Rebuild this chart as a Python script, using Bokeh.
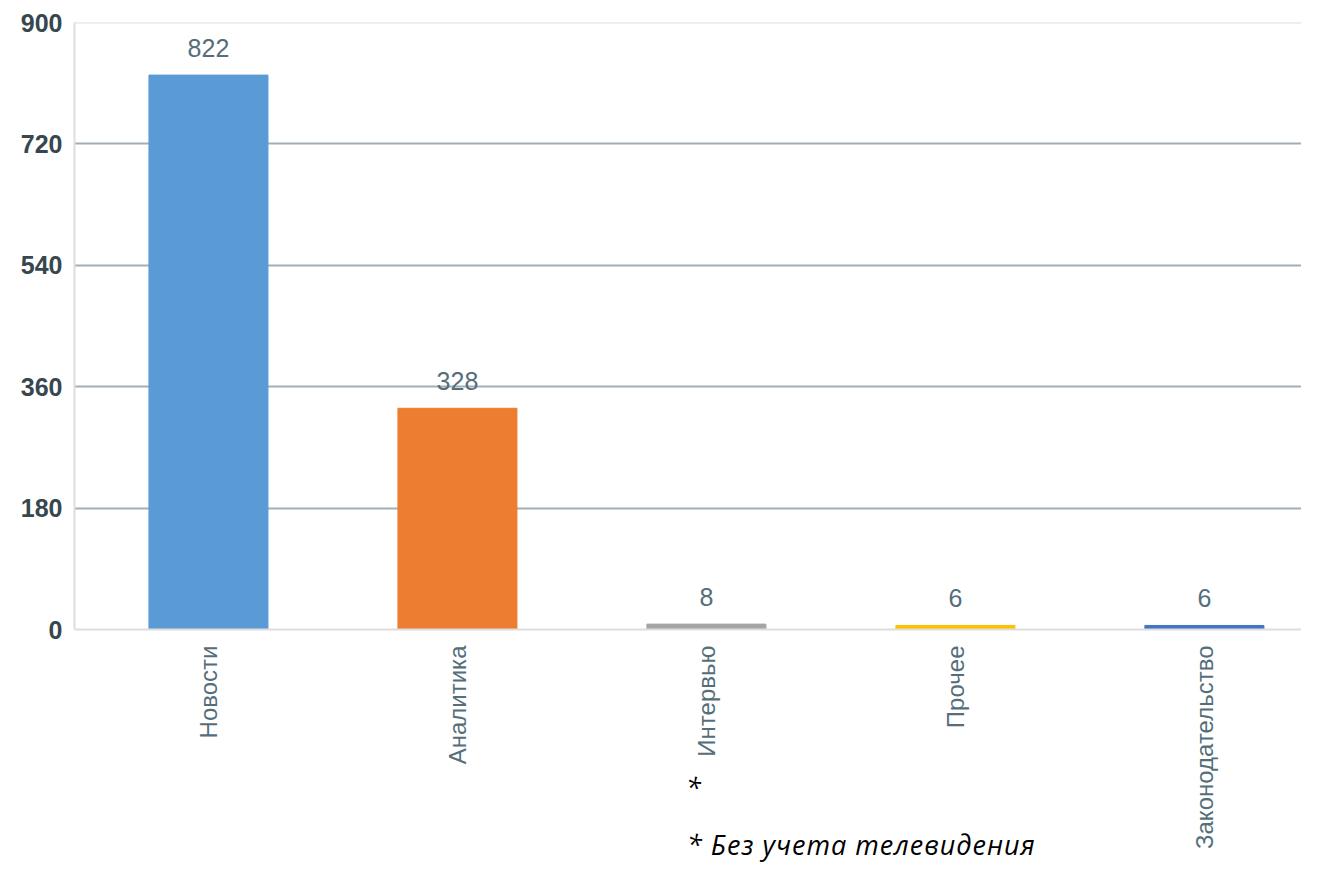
import math
from bokeh.plotting import figure
from bokeh.layouts import column
from bokeh.models import (ColumnDataSource, Range1d, FixedTicker, LabelSet,
                          Span, Div)
from bokeh.core.properties import value
from bokeh.embed import file_html
from bokeh.resources import INLINE

categories = ["Новости", "Аналитика", "Интервью", "Прочее", "Законодательство"]
values = [822, 328, 8, 6, 6]
colors = ["#5B9BD5", "#ED7D31", "#A5A5A5", "#FFC000", "#4472C4"]
y_ticks = [0, 180, 360, 540, 720, 900]
grid_ticks = [180, 360, 540, 720]
footnote = "* Без учета телевидения"
marker_note = "*"

W, H = 1301, 853

x = list(range(len(categories)))
src = ColumnDataSource(dict(x=x, top=values, color=colors,
                            label=[str(v) for v in values]))

p = figure(width=W, height=H, output_backend="svg", toolbar_location=None,
           x_range=Range1d(-0.538, 4.39), y_range=Range1d(0, 900),
           min_border_left=74, min_border_top=22, min_border_bottom=224,
           min_border_right=0)

p.vbar(x="x", top="top", width=0.478, fill_color="color", line_color="color",
       source=src)

p.add_layout(LabelSet(x="x", y="top", text="label", source=src,
                      y_offset=18, text_align="center", text_baseline="bottom",
                      text_font=value("Liberation Sans"), text_font_size="25px",
                      text_color="#546e7a"))

p.outline_line_color = None
p.background_fill_color = "white"
p.border_fill_color = "white"

p.xgrid.visible = False
p.ygrid.ticker = FixedTicker(ticks=grid_ticks)
p.ygrid.grid_line_color = "#a3adb5"
p.ygrid.grid_line_width = 2

p.add_layout(Span(location=y_ticks[-1], dimension="width",
                  line_color="#dddddd", line_width=2))

ya = p.yaxis[0]
ya.ticker = FixedTicker(ticks=y_ticks)
ya.major_label_text_font = "Liberation Sans"
ya.major_label_text_font_size = "25px"
ya.major_label_text_font_style = "bold"
ya.major_label_text_color = "#37474f"
ya.axis_line_color = "#dddddd"
ya.axis_line_width = 2
ya.major_tick_line_color = None
ya.minor_tick_line_color = None
ya.major_tick_out = 0
ya.major_tick_in = 0
ya.minor_tick_out = 0
ya.major_label_standoff = 12

xa = p.xaxis[0]
xa.ticker = FixedTicker(ticks=x)
xa.major_label_overrides = {i: c for i, c in zip(x, categories)}
xa.major_label_orientation = math.pi / 2
xa.major_label_text_font = "Liberation Sans"
xa.major_label_text_font_size = "24px"
xa.major_label_text_color = "#546e7a"
xa.axis_line_color = "#dddddd"
xa.axis_line_width = 2
xa.major_tick_line_color = None
xa.minor_tick_line_color = None
xa.major_tick_out = 0
xa.major_tick_in = 0
xa.minor_tick_out = 0
xa.major_label_standoff = 16

DH = 100
note_html = (
    f'<div style="position:relative;width:{W}px;height:{DH}px;'
    'font-family:\'Open Sans\';font-style:italic;color:black;line-height:1;">'
    f'<span style="position:absolute;left:686px;top:21px;font-size:27px;">{marker_note}</span>'
    f'<span style="position:absolute;left:687px;top:78px;font-size:27px;'
    f'letter-spacing:1px;white-space:nowrap;">{footnote}</span>'
    '</div>'
)
note = Div(text=note_html, width=W, height=DH, margin=(-DH, 0, 0, 0))

layout = column(p, note, spacing=0)

open("out.html", "w").write(file_html(layout, INLINE))
